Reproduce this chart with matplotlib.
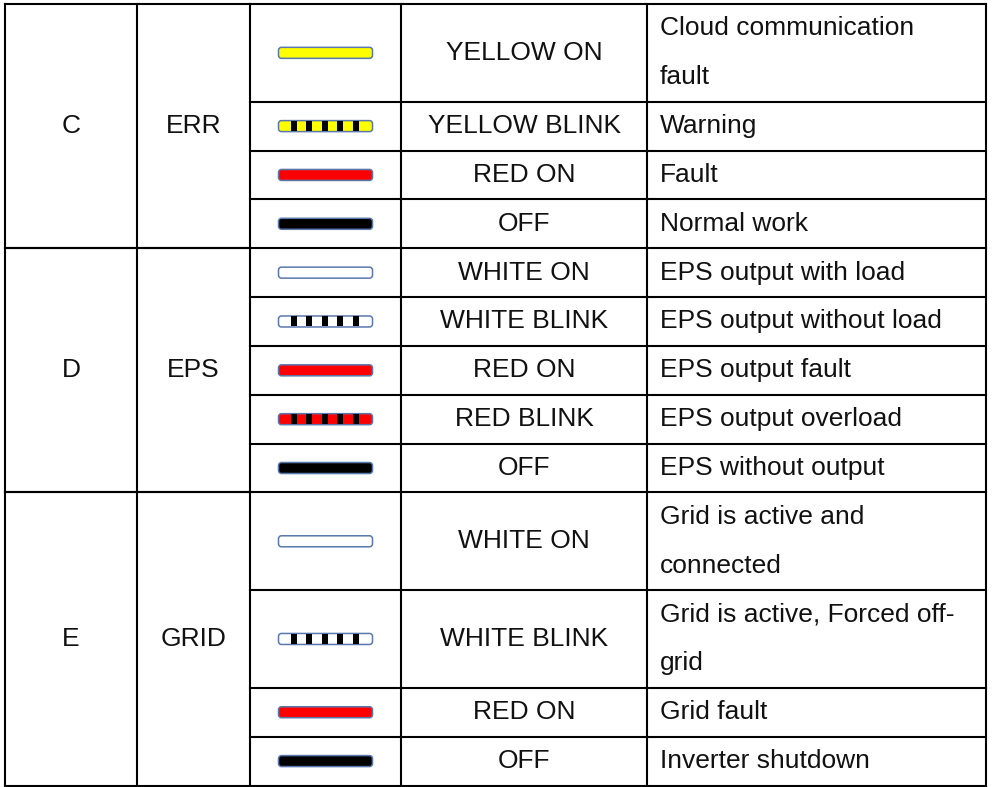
import matplotlib
matplotlib.use("Agg")
import matplotlib.pyplot as plt
from matplotlib.patches import FancyBboxPatch, Rectangle

plt.rcParams['font.family'] = ['Liberation Sans', 'DejaVu Sans']

# table content
groups = ["C", "D", "E"]
functions = ["ERR", "EPS", "GRID"]
group_sizes = [4, 5, 4]

leds = ["yellow_on", "yellow_blink", "red_on", "off",
        "white_on", "white_blink", "red_on", "red_blink", "off",
        "white_on", "white_blink", "red_on", "off"]
states = ["YELLOW ON", "YELLOW BLINK", "RED ON", "OFF",
          "WHITE ON", "WHITE BLINK", "RED ON", "RED BLINK", "OFF",
          "WHITE ON", "WHITE BLINK", "RED ON", "OFF"]
descriptions = [["Cloud communication", "fault"], ["Warning"], ["Fault"], ["Normal work"],
                ["EPS output with load"], ["EPS output without load"], ["EPS output fault"],
                ["EPS output overload"], ["EPS without output"],
                ["Grid is active and", "connected"], ["Grid is active, Forced off-", "grid"],
                ["Grid fault"], ["Inverter shutdown"]]

led_fill = {"yellow_on": "#ffff00", "yellow_blink": "#ffff00", "red_on": "#ff0000",
            "red_blink": "#ff0000", "off": "#000000", "white_on": "#ffffff",
            "white_blink": "#ffffff"}

# layout in pixels
W, H = 992, 787
col_x = [5, 137, 250, 401, 647, 986]
top, bottom = 4, 785.5
n_units = sum(len(d) for d in descriptions)
unit = (bottom - top) / n_units
lw = 1.5
fs = 19
txt_color = "#111111"

fig = plt.figure(figsize=(W / 100, H / 100), dpi=100)
ax = fig.add_axes([0, 0, 1, 1])
ax.set_xlim(0, W)
ax.set_ylim(H, 0)
ax.axis("off")


def draw_led(kind, cx, cy):
    bw, bh = 94, 11
    x0, y0 = cx - bw / 2, cy - bh / 2
    ax.add_patch(FancyBboxPatch((x0, y0), bw, bh, boxstyle="round,pad=0,rounding_size=3",
                                facecolor=led_fill[kind], edgecolor="#5a78ad", linewidth=1.1,
                                zorder=3))
    if kind.endswith("blink"):
        for f in [0.13, 0.295, 0.46, 0.625, 0.79]:
            ax.add_patch(Rectangle((x0 + f * bw, y0 + 0.5), 6.2, bh - 1,
                                   facecolor="#000000", edgecolor="none", zorder=4))


# rows
y = top
row_tops = []
for i, desc in enumerate(descriptions):
    h = len(desc) * unit
    row_tops.append(y)
    cy = y + h / 2
    draw_led(leds[i], (col_x[2] + col_x[3]) / 2, cy)
    ax.text((col_x[3] + col_x[4]) / 2, cy, states[i], ha="center", va="center",
            fontsize=fs, color=txt_color)
    for k, line in enumerate(desc):
        ax.text(col_x[4] + 13, y + (k + 0.5) * unit, line, ha="left", va="center",
                fontsize=fs, color=txt_color)
    y += h
row_tops.append(y)

# horizontal lines for state rows
for yy in row_tops:
    ax.plot([col_x[2], col_x[5]], [yy, yy], color="black", lw=lw, solid_capstyle="projecting")

# group cells
start = 0
for g, fn, n in zip(groups, functions, group_sizes):
    y0, y1 = row_tops[start], row_tops[start + n]
    ax.plot([col_x[0], col_x[2]], [y0, y0], color="black", lw=lw, solid_capstyle="projecting")
    ax.plot([col_x[0], col_x[2]], [y1, y1], color="black", lw=lw, solid_capstyle="projecting")
    cy = (y0 + y1) / 2
    ax.text((col_x[0] + col_x[1]) / 2, cy, g, ha="center", va="center", fontsize=fs, color=txt_color)
    ax.text((col_x[1] + col_x[2]) / 2, cy, fn, ha="center", va="center", fontsize=fs, color=txt_color)
    start += n

# vertical lines
for xx in col_x:
    ax.plot([xx, xx], [top, bottom], color="black", lw=lw, solid_capstyle="projecting")

fig.savefig("out.png", dpi=100)
